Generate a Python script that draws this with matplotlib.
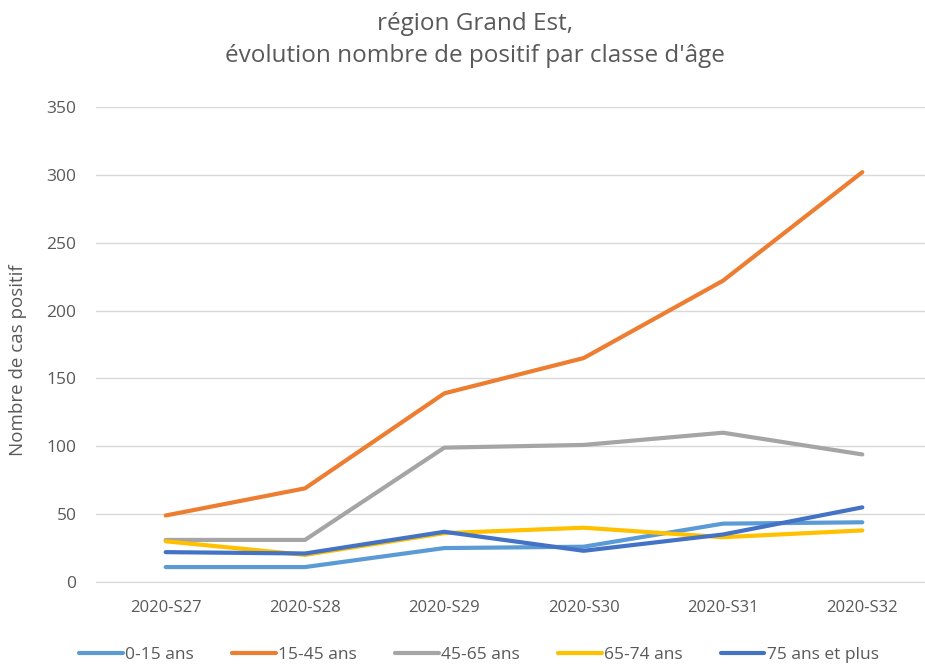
import numpy as np
from matplotlib import pyplot as plt

weeks = ['2020-S27', '2020-S28', '2020-S29', '2020-S30', '2020-S31', '2020-S32']
ans_0_15 = [11, 11, 25, 26, 43, 44]
ans_15_45 = [49, 69, 139, 165, 222, 302]
ans_45_65 = [31, 31, 99, 101, 110, 94]
ans_65_74 = [30, 20, 36, 40, 33, 38]
ans_75_plus = [22, 21, 37, 23, 35, 55]

series = [
    ('0-15 ans', ans_0_15, '#5B9BD5'),
    ('15-45 ans', ans_15_45, '#ED7D31'),
    ('45-65 ans', ans_45_65, '#A5A5A5'),
    ('65-74 ans', ans_65_74, '#FFC000'),
    ('75 ans et plus', ans_75_plus, '#4472C4'),
]

txt = '#595959'
font = ['Open Sans', 'DejaVu Sans']

fig = plt.figure(figsize=(9.25, 6.68), dpi=100)
ax = fig.add_axes([96 / 925, 1 - 582 / 668, (925 - 96) / 925, (582 - 107) / 668])

x = np.arange(len(weeks))
for name, vals, col in series:
    ax.plot(x, vals, color=col, lw=3.0, label=name, solid_capstyle='round')

ax.set_xlim(-0.5, 5.45)
ax.set_ylim(0, 350)
ax.set_yticks(range(0, 351, 50))
ax.set_xticks(x)
ax.set_xticklabels(weeks, fontsize=12, color=txt, family=font)
for lab in ax.get_yticklabels():
    lab.set_fontsize(12.5)
    lab.set_color(txt)
    lab.set_family(font)
ax.tick_params(axis='both', length=0)
ax.tick_params(axis='x', pad=13)
ax.tick_params(axis='y', pad=14)
ax.grid(axis='y', color='#D9D9D9', lw=1)
ax.set_axisbelow(True)
for s in ['top', 'right', 'left']:
    ax.spines[s].set_visible(False)
ax.spines['bottom'].set_color('#D9D9D9')

fig.text(18 / 925, 1 - 360 / 668, 'Nombre de cas positif', rotation=90, va='center', ha='center',
         fontsize=13.5, color=txt, family=font)
fig.text(0.513, 1 - 40 / 668, "région Grand Est,\névolution nombre de positif par classe d'âge",
         ha='center', va='center', fontsize=17.5, color=txt, linespacing=1.45, family=font)

leg = fig.legend(loc='center', bbox_to_anchor=(0.518, 1 - 655 / 668), ncol=5, frameon=False,
                 handlelength=2.5, handletextpad=0.15, columnspacing=2.2,
                 prop={'family': font, 'size': 12.5})
for t in leg.get_texts():
    t.set_color(txt)

plt.savefig('out.png', dpi=100)
